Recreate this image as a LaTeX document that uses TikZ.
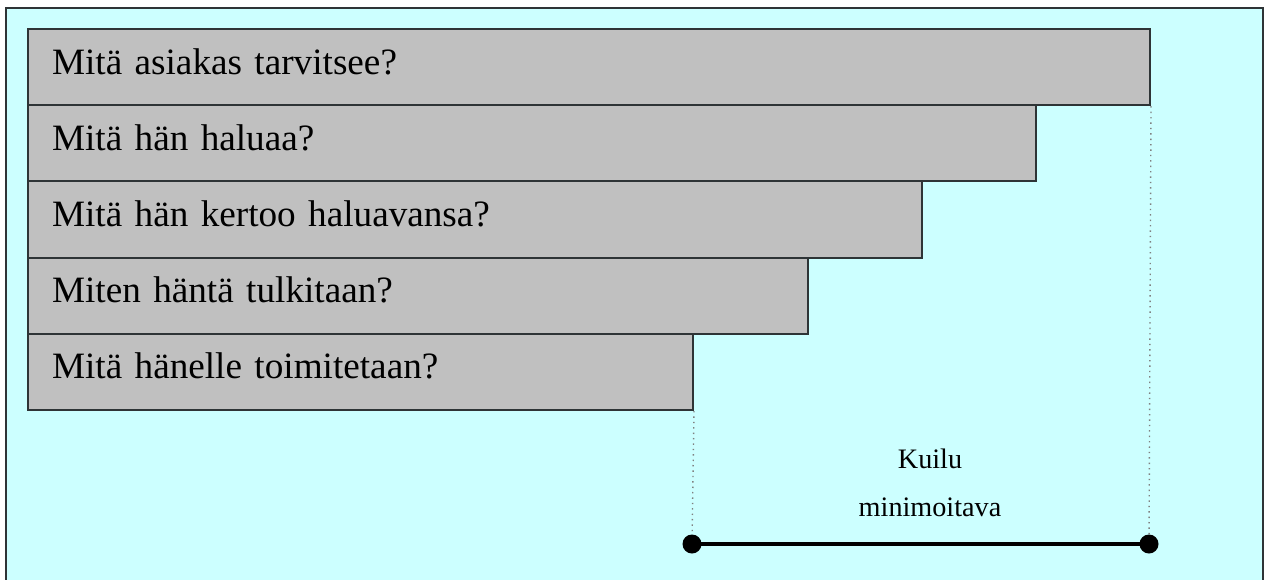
\documentclass[tikz,border=0pt]{standalone}
\usepackage{fontspec}
\setmainfont{Liberation Serif}
\definecolor{sky}{HTML}{CCFFFF}
\definecolor{barfill}{HTML}{C0C0C0}
\definecolor{edge}{HTML}{2E3436}
\begin{document}
\begin{tikzpicture}[x=0.5pt,y=-0.5pt,
  bar/.style={draw=edge, line width=1pt, fill=barfill, anchor=north west,
    minimum height=38.1pt, inner xsep=12pt, inner ysep=0pt,
    text height=0.95em, text depth=0.25em, align=left,
    font=\fontsize{18.6}{22}\selectfont},
  guide/.style={draw=gray, line width=0.7pt, dotted},
  endpt/.style={circle, fill=black, inner sep=0pt, minimum size=9.5pt},
  caption/.style={anchor=base, font=\fontsize{14.1}{16}\selectfont}]
  \useasboundingbox (0,0) rectangle (1265,579);
  \clip (0,0) rectangle (1265,579);
  % frame
  \draw[edge, line width=1pt, fill=sky] (6,8) rectangle (1263,620);
  % stacked bars
  \node[bar, text width=537pt] (b1) at (27,28) {Mitä asiakas tarvitsee?};
  \node[bar, text width=480pt] (b2) at (27,104.2) {Mitä hän haluaa?};
  \node[bar, text width=423pt] (b3) at (27,180.4) {Mitä hän kertoo haluavansa?};
  \node[bar, text width=366pt] (b4) at (27,256.6) {Miten häntä tulkitaan?};
  \node[bar, text width=308.5pt] (b5) at (27,332.8) {Mitä hänelle toimitetaan?};
  % gap measure
  \coordinate (gl) at (692,544);
  \coordinate (gr) at (1149,544);
  \draw[guide] (b5.south east) -- (gl);
  \draw[guide] (b1.south east) -- (gr);
  \draw[line width=2pt] (gl) -- (gr);
  \node[endpt] (dl) at (gl) {};
  \node[endpt] (dr) at (gr) {};
  \node[caption] (k1) at (930,468) {Kuilu};
  \node[caption] (k2) at (930,516) {minimoitava};
\end{tikzpicture}
\end{document}
